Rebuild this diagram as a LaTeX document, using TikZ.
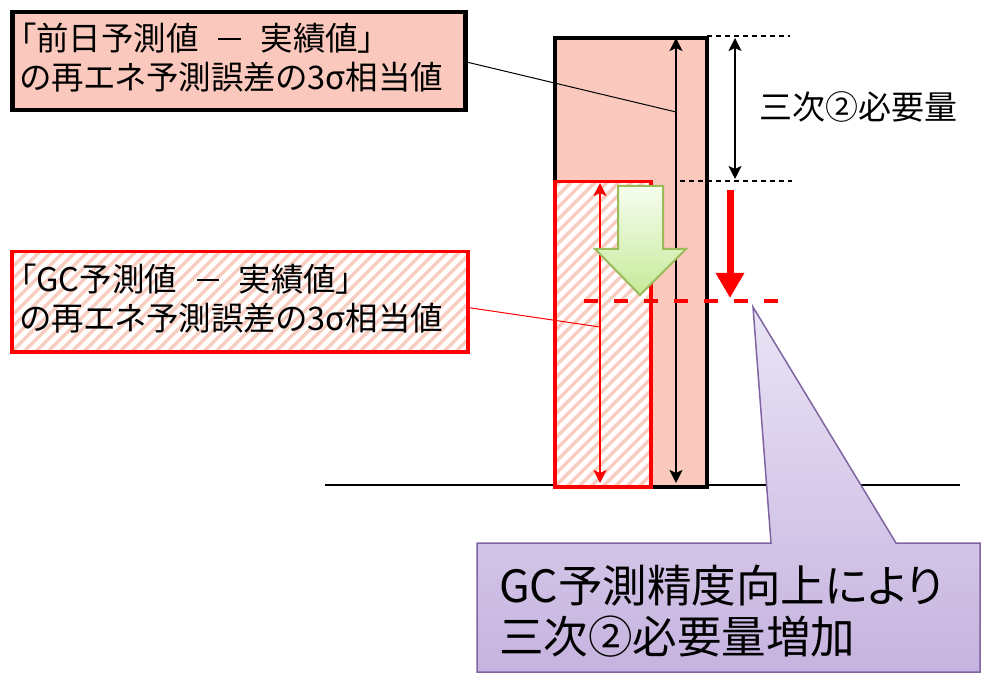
\documentclass[tikz,border=0pt]{standalone}
\usepackage{fontspec}
\setmainfont{Noto Sans CJK JP}
\newfontfamily\pfont{Noto Sans CJK JP}[RawFeature=+palt]
\usetikzlibrary{arrows.meta,shadings}
\definecolor{pinkfill}{HTML}{FAC8BC}
\definecolor{stripe}{HTML}{F9CCC0}
\definecolor{myred}{HTML}{FF0000}
\definecolor{gborder}{HTML}{9BBB59}
\definecolor{gtop}{HTML}{F6FDEE}
\definecolor{gbot}{HTML}{C6EA9A}
\definecolor{pborder}{HTML}{8064A2}
\definecolor{ptop}{HTML}{E9E4F5}
\definecolor{pbot}{HTML}{C6B3DF}
\newcommand\mydash{\hspace{0.6em}\rule[0.33em]{0.7em}{2.2pt}\hspace{0.6em}}
\tikzset{
  hatch/.style={path picture={
    \foreach \i in {-70,...,70}{
      \draw[stripe, line width=3.2pt] ([xshift=\i*12pt]path picture bounding box.south west) -- ++(700pt,700pt);
    }}},
  boxtext/.style={font=\pfont\fontsize{32.5}{39}\selectfont, align=left, anchor=west, inner sep=0pt},
  dimarrow/.style={line width=2pt, {Stealth[length=13pt,width=13pt,inset=3pt]}-{Stealth[length=13pt,width=13pt,inset=3pt]}},
  guide/.style={line width=1.2pt, dash pattern=on 5pt off 4pt},
  rect/.style={inner sep=0pt, anchor=north west},
}
\begin{document}
\begin{tikzpicture}[x=1pt,y=-1pt]
\useasboundingbox (0,0) rectangle (988,676);
\fill[white] (0,0) rectangle (988,676);

% ground line
\coordinate (g1) at (325,485);
\coordinate (g2) at (960,485);
\draw[line width=2.5pt] (g1) -- (g2);

% bars
\node[rect, draw, line width=4pt, fill=pinkfill, minimum width=152pt, minimum height=449pt] (bar) at (553,36) {};
\node[rect, draw=myred, line width=3.5pt, fill=white, hatch, minimum width=96pt, minimum height=305pt] (gcbar) at (553,180) {};

% arrows inside bars
\coordinate (a1t) at (676,38);
\coordinate (a1b) at (676,483);
\draw[dimarrow] (a1b) -- (a1t);
\coordinate (a2t) at (600,183);
\coordinate (a2b) at (600,483);
\draw[dimarrow, myred] (a2b) -- (a2t);

% label boxes
\node[rect, draw, line width=4.5pt, fill=pinkfill, minimum width=453pt, minimum height=98pt] (box1) at (10,10) {};
\node[boxtext] (t1) at (20,58) {「前日予測値\mydash 実績値」\\の再エネ予測誤差の3σ相当値};
\node[rect, draw=myred, line width=3.5pt, fill=white, hatch, minimum width=456pt, minimum height=100pt] (box2) at (10,250) {};
\node[boxtext] (t2) at (20,299) {「GC予測値\mydash 実績値」\\の再エネ予測誤差の3σ相当値};

% leader lines
\coordinate (l1) at (676,112);
\draw[line width=1pt] ([yshift=-1pt]box1.east) -- (l1);
\coordinate (l2) at (600,327);
\draw[line width=1pt, myred] ([yshift=-6pt]box2.east) -- (l2);

% guide lines and requirement dimension
\coordinate (d1s) at (707,36);
\coordinate (d1e) at (790,36);
\draw[guide] (d1s) -- (d1e);
\coordinate (d2s) at (680,181);
\coordinate (d2e) at (792,181);
\draw[guide] (d2s) -- (d2e);
\coordinate (r1) at (735,38);
\coordinate (r2) at (735,179);
\draw[dimarrow] (r1) -- (r2);
\node[font=\fontsize{33}{40}\selectfont, inner sep=0pt] (req) at (858,107) {三次②必要量};

% green block arrow
\coordinate (ga1) at (618,186);
\coordinate (ga2) at (663,186);
\coordinate (ga3) at (663,249);
\coordinate (ga4) at (686,249);
\coordinate (ga5) at (640,295);
\coordinate (ga6) at (595,249);
\coordinate (ga7) at (618,249);
\path[draw=gborder, line width=2pt, top color=gtop, bottom color=gbot, line join=miter]
  (ga1) -- (ga2) -- (ga3) -- (ga4) -- (ga5) -- (ga6) -- (ga7) -- cycle;

% red thick arrow
\coordinate (ra1) at (730,190);
\coordinate (ra2) at (730,298);
\draw[myred, line width=7pt, -{Triangle[length=25pt,width=27pt]}] (ra1) -- (ra2);

% red dashed level line
\coordinate (rd1) at (584,301);
\coordinate (rd2) at (786,301);
\draw[myred, line width=4pt, dash pattern=on 14pt off 16pt] (rd1) -- (rd2);

% callout
\coordinate (c1) at (477,543);
\coordinate (c2) at (771,543);
\coordinate (ctip) at (753,307);
\coordinate (c3) at (896,543);
\coordinate (c4) at (980,543);
\coordinate (c5) at (980,672);
\coordinate (c6) at (477,672);
\path[draw=pborder, line width=1.5pt, top color=ptop, bottom color=pbot]
  (c1) -- (c2) -- (ctip) -- (c3) -- (c4) -- (c5) -- (c6) -- cycle;
\node[font=\pfont\fontsize{44.5}{51}\selectfont, align=left, anchor=west, inner sep=0pt] (ct) at (499,611) {GC予測精度向上により\\三次②必要量増加};
\end{tikzpicture}
\end{document}
